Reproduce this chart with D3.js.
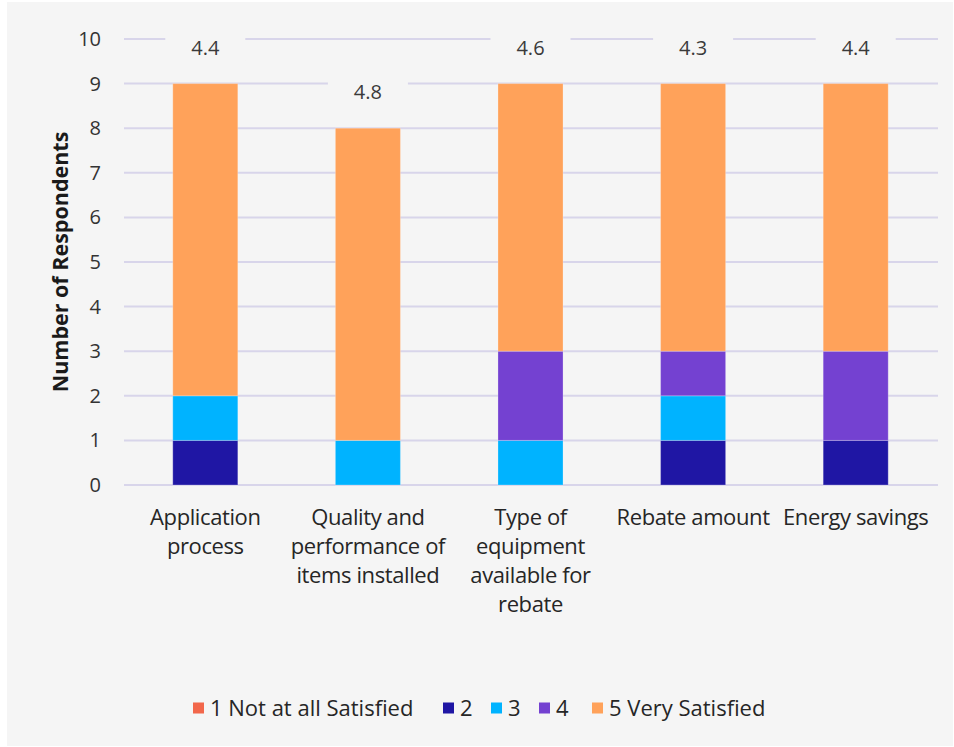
<!DOCTYPE html>
<html>
<head>
<meta charset="utf-8">
<script src="https://cdn.jsdelivr.net/npm/d3@7"></script>
<style>
  html, body { margin: 0; padding: 0; background: #ffffff; }
  svg { display: block; font-family: "Open Sans", "Noto Sans", sans-serif; }
</style>
</head>
<body>
<svg id="chart" width="954" height="747"></svg>
<script>
// Survey items (x categories); "\n" marks a line break in the axis label
const categories = [
  "Application\nprocess",
  "Quality and\nperformance of\nitems installed",
  "Type of\nequipment\navailable for\nrebate",
  "Rebate amount",
  "Energy savings"
];

// Satisfaction levels (stack order, bottom to top)
const levels = ["1 Not at all Satisfied", "2", "3", "4", "5 Very Satisfied"];
const levelColors = ["#F2674B", "#1F16A4", "#00B3FF", "#7441D1", "#FFA25A"];

// Number of respondents per level, one array per level
const notAtAll      = [0, 0, 0, 0, 0];
const rating2       = [1, 0, 0, 1, 1];
const rating3       = [1, 1, 1, 1, 0];
const rating4       = [0, 0, 2, 1, 2];
const verySatisfied = [7, 7, 6, 6, 6];

// Mean rating shown above each bar
const averages = [4.4, 4.8, 4.6, 4.3, 4.4];

const yTicks = [0, 1, 2, 3, 4, 5, 6, 7, 8, 9, 10];

const series = [notAtAll, rating2, rating3, rating4, verySatisfied];
const rows = categories.map((c, i) => {
  const r = { category: c };
  levels.forEach((l, j) => { r[l] = series[j][i]; });
  return r;
});

const svg = d3.select("#chart");

// panel background
svg.append("rect")
  .attr("x", 7).attr("y", 2)
  .attr("width", 946).attr("height", 744)
  .attr("fill", "#F5F5F5");

const x = d3.scaleBand()
  .domain(categories)
  .range([124, 937])
  .paddingInner(0.6)
  .paddingOuter(0.3);

const y = d3.scaleLinear()
  .domain([0, 10])
  .range([485, 39]);

const color = d3.scaleOrdinal().domain(levels).range(levelColors);

// horizontal gridlines
svg.append("g")
  .selectAll("line")
  .data(yTicks)
  .join("line")
  .attr("x1", 124).attr("x2", 938)
  .attr("y1", d => y(d)).attr("y2", d => y(d))
  .attr("stroke", "#D8D5EA")
  .attr("stroke-width", 2);

// y axis tick labels
const yAxis = d3.axisLeft(y).tickValues(yTicks).tickSize(0).tickPadding(0);
const yg = svg.append("g")
  .attr("transform", "translate(101,0)")
  .call(yAxis);
yg.select(".domain").remove();
yg.selectAll("text")
  .attr("font-size", 20)
  .attr("fill", "#333333")
  .attr("font-family", "'Open Sans', sans-serif");

// y axis title
svg.append("text")
  .attr("transform", `translate(68,${(y(0) + y(10)) / 2}) rotate(-90)`)
  .attr("text-anchor", "middle")
  .attr("font-size", 21.5)
  .attr("font-weight", "bold")
  .attr("fill", "#1a1a1a")
  .text("Number of Respondents");

// stacked bars
const stacked = d3.stack().keys(levels)(rows);
svg.append("g")
  .selectAll("g")
  .data(stacked)
  .join("g")
  .attr("fill", d => color(d.key))
  .selectAll("rect")
  .data(d => d.filter(p => p[1] - p[0] > 0))
  .join("rect")
  .attr("x", d => x(d.data.category))
  .attr("y", d => y(d[1]))
  .attr("width", x.bandwidth())
  .attr("height", d => y(d[0]) - y(d[1]))
  .attr("stroke", "#ffffff")
  .attr("stroke-opacity", 0.25)
  .attr("stroke-width", 1);

// mean labels above each stack, on a patch of background that breaks the gridline
const totals = rows.map(r => d3.sum(levels, l => r[l]));
const labelG = svg.append("g");
categories.forEach((c, i) => {
  const cx = x(c) + x.bandwidth() / 2;
  const cy = y(totals[i]) - 36;
  labelG.append("rect")
    .attr("x", cx - 40).attr("y", cy - 13)
    .attr("width", 80).attr("height", 26)
    .attr("fill", "#F5F5F5");
  labelG.append("text")
    .attr("x", cx).attr("y", cy)
    .attr("dy", "0.35em")
    .attr("text-anchor", "middle")
    .attr("font-size", 20)
    .attr("fill", "#3a3a3a")
    .text(averages[i].toFixed(1));
});

// x axis category labels
const xg = svg.append("g");
categories.forEach(c => {
  const cx = x(c) + x.bandwidth() / 2;
  const t = xg.append("text")
    .attr("x", cx).attr("y", 525)
    .attr("text-anchor", "middle")
    .attr("font-size", 22)
    .attr("letter-spacing", -0.4)
    .attr("fill", "#262626");
  c.split("\n").forEach((line, k) => {
    t.append("tspan").attr("x", cx).attr("dy", k === 0 ? 0 : 29).text(line);
  });
});

// legend
const legendX = [193, 443, 491, 539, 592];
const lg = svg.append("g");
levels.forEach((l, i) => {
  const g = lg.append("g").attr("transform", `translate(${legendX[i]},708)`);
  g.append("rect").attr("x", 0).attr("y", -5.5).attr("width", 11).attr("height", 11).attr("fill", color(l));
  g.append("text").attr("x", 17).attr("y", 0).attr("dy", "0.35em")
    .attr("font-size", 22)
    .attr("fill", "#262626").text(l);
});
</script>
</body>
</html>
